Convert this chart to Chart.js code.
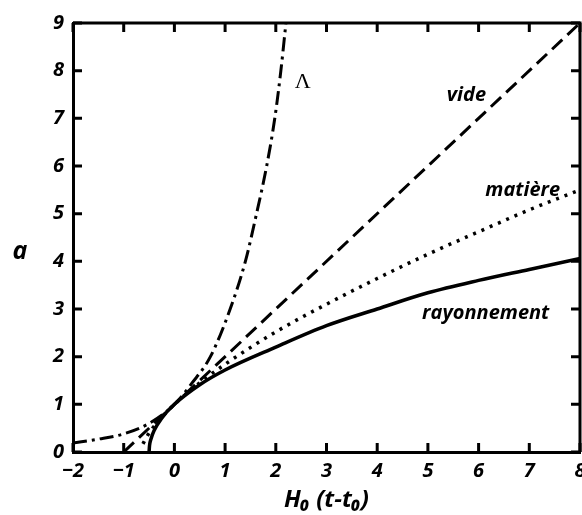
<!DOCTYPE html>
<html>
<head>
<meta charset="utf-8">
<script src="https://cdn.jsdelivr.net/npm/chart.js@4/dist/chart.umd.min.js"></script>
<style>
  html, body { margin: 0; padding: 0; background: #fff; }
  #wrap { width: 582px; height: 515px; }
</style>
</head>
<body>
<div id="wrap"><canvas id="c" width="582" height="515"></canvas></div>
<script>
// H0 (t - t0) on x, scale factor a on y
const lambdaT = [-2, -1.5, -1, -0.5, 0, 0.35, 0.71, 1.1, 1.4, 1.62, 1.82, 1.98, 2.1, 2.2]
const lambdaA = [0.19, 0.27, 0.38, 0.6, 1.0, 1.45, 2.0, 3.0, 4.0, 5.0, 6.0, 7.0, 8.0, 9.0]

const videT = [-1, 8]
const videA = [0, 9]

const matiereT = [-0.62, -0.55, -0.45, -0.3, 0, 0.5, 1, 2, 3, 4, 5, 6, 7, 8]
const matiereA = [0.17, 0.31, 0.47, 0.67, 1.0, 1.45, 1.84, 2.52, 3.1, 3.64, 4.15, 4.62, 5.08, 5.5]

const rayT = [-0.5, -0.49, -0.46, -0.4, -0.25, 0, 0.5, 1, 2, 3, 4, 5, 6, 7, 8]
const rayA = [0, 0.14, 0.28, 0.45, 0.71, 1.0, 1.41, 1.72, 2.2, 2.65, 3.0, 3.34, 3.6, 3.83, 4.06]

const xTicks = [-2, -1, 0, 1, 2, 3, 4, 5, 6, 7, 8]
const yTicks = [0, 1, 2, 3, 4, 5, 6, 7, 8, 9]

// curve labels, placed in data coordinates
const labels = [
  { text: 'Λ', x: 2.53, y: 7.75, font: '22px "Liberation Serif", "DejaVu Serif", serif' },
  { text: 'vide', x: 5.76, y: 7.48 },
  { text: 'matière', x: 6.87, y: 5.5 },
  { text: 'rayonnement', x: 6.14, y: 2.92 }
]

const FONT = '"Open Sans", "Liberation Sans", sans-serif'
const pts = (xs, ys) => xs.map((x, i) => ({ x: x, y: ys[i] }))

const frame = {
  id: 'frame',
  afterDraw(chart) {
    const ctx = chart.ctx
    const a = chart.chartArea
    const xs = chart.scales.x
    const ys = chart.scales.y
    ctx.save()
    ctx.strokeStyle = '#000'
    ctx.lineWidth = 3
    ctx.beginPath()
    ctx.moveTo(a.left, a.top)
    ctx.lineTo(a.right, a.top)
    ctx.lineTo(a.right, a.bottom)
    ctx.stroke()
    // inward tick marks on all four sides
    const len = 9
    ctx.beginPath()
    xTicks.forEach(v => {
      const p = xs.getPixelForValue(v)
      ctx.moveTo(p, a.bottom); ctx.lineTo(p, a.bottom - len)
      ctx.moveTo(p, a.top); ctx.lineTo(p, a.top + len)
    })
    yTicks.forEach(v => {
      const p = ys.getPixelForValue(v)
      ctx.moveTo(a.left, p); ctx.lineTo(a.left + len, p)
      ctx.moveTo(a.right, p); ctx.lineTo(a.right - len, p)
    })
    ctx.stroke()

    ctx.fillStyle = '#000'
    ctx.textAlign = 'center'
    ctx.textBaseline = 'middle'
    labels.forEach(l => {
      ctx.font = l.font || ('italic bold 20px ' + FONT)
      ctx.fillText(l.text, xs.getPixelForValue(l.x), ys.getPixelForValue(l.y))
    })
    // axis name for y, upright like the original
    ctx.font = 'italic bold 25px ' + FONT
    ctx.fillText('a', ys.left + 20, ys.getPixelForValue(4.2))
    ctx.restore()
  }
}

new Chart(document.getElementById('c'), {
  type: 'line',
  data: {
    datasets: [
      {
        label: 'Λ',
        data: pts(lambdaT, lambdaA),
        borderColor: '#000',
        borderWidth: 3,
        borderDash: [14, 5, 3, 5],
        pointRadius: 0,
        cubicInterpolationMode: 'monotone'
      },
      {
        label: 'vide',
        data: pts(videT, videA),
        borderColor: '#000',
        borderWidth: 3,
        borderDash: [14, 7],
        pointRadius: 0
      },
      {
        label: 'matière',
        data: pts(matiereT, matiereA),
        borderColor: '#000',
        borderWidth: 3.5,
        borderDash: [3, 6],
        pointRadius: 0,
        cubicInterpolationMode: 'monotone'
      },
      {
        label: 'rayonnement',
        data: pts(rayT, rayA),
        borderColor: '#000',
        borderWidth: 3.5,
        pointRadius: 0,
        cubicInterpolationMode: 'monotone'
      }
    ]
  },
  options: {
    responsive: false,
    animation: false,
    layout: { padding: { top: 23, right: 2, left: 0, bottom: 0 } },
    plugins: {
      legend: { display: false },
      tooltip: { enabled: false }
    },
    scales: {
      x: {
        type: 'linear',
        min: -2,
        max: 8,
        afterBuildTicks: s => { s.ticks = xTicks.map(v => ({ value: v })) },
        afterFit: s => { s.height = 63; s.paddingLeft = 0; s.paddingRight = 0 },
        grid: { display: false, drawTicks: false },
        border: { display: true, color: '#000', width: 3 },
        ticks: {
          padding: 7,
          color: '#000',
          maxRotation: 0,
          font: { family: FONT, size: 20, style: 'italic', weight: 'bold' },
          callback: v => v < 0 ? '−' + Math.abs(v) : String(v)
        },
        title: {
          display: true,
          text: 'H₀ (t-t₀)',
          color: '#000',
          padding: 0,
          font: { family: FONT, size: 24, style: 'italic', weight: 'bold' }
        }
      },
      y: {
        min: 0,
        max: 9,
        afterBuildTicks: s => { s.ticks = yTicks.map(v => ({ value: v })) },
        afterFit: s => { s.width = 73; s.paddingTop = 0; s.paddingBottom = 0 },
        grid: { display: false, drawTicks: false },
        border: { display: true, color: '#000', width: 3 },
        ticks: {
          padding: 9,
          color: '#000',
          font: { family: FONT, size: 20, style: 'italic', weight: 'bold' }
        }
      }
    }
  },
  plugins: [frame]
})
</script>
</body>
</html>
